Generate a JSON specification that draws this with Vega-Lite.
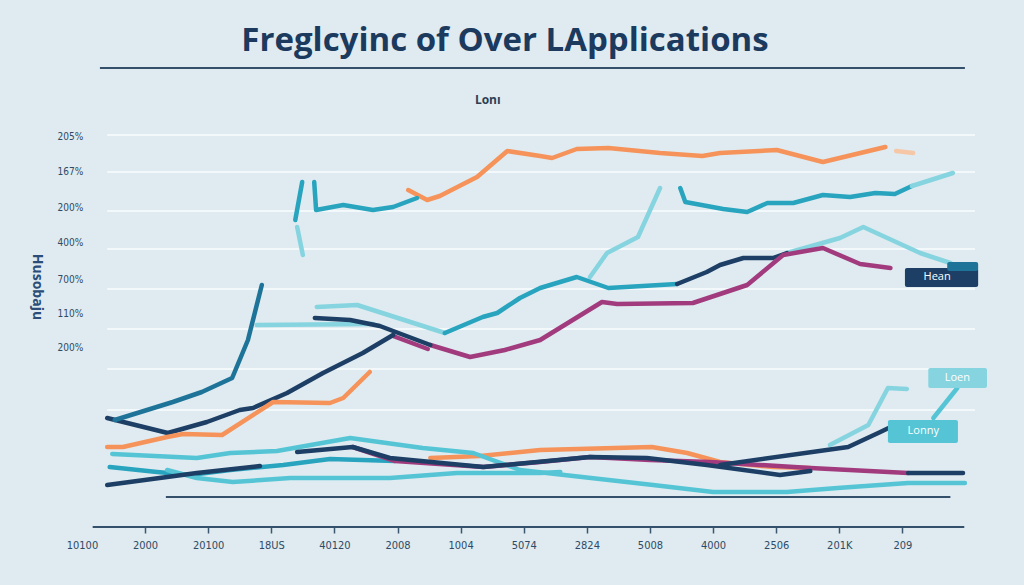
{
  "$schema": "https://vega.github.io/schema/vega-lite/v6.json",
  "width": 900,
  "height": 420,
  "autosize": "none",
  "padding": {"left": 75, "top": 107, "right": 49, "bottom": 58},
  "background": "#dfebf0",
  "config": {"view": {"stroke": null}},
  "title": {"text": "Freglcyinc of Over LApplications", "fontSize": 33, "fontWeight": "bold", "font": "Open Sans", "color": "#1b3a5e", "anchor": "middle", "frame": "group", "offset": 9, "dx": -20},
  "datasets": {
    "lines": [
      {"s":"orange","g":"o1","x":5.17,"y":84.25},{"s":"orange","g":"o1","x":5.47,"y":81.75},{"s":"orange","g":"o1","x":5.67,"y":82.75},{"s":"orange","g":"o1","x":6.26,"y":87.5},{"s":"orange","g":"o1","x":6.74,"y":94},{"s":"orange","g":"o1","x":7.26,"y":92.75},{"s":"orange","g":"o1","x":7.45,"y":92.25},{"s":"orange","g":"o1","x":7.84,"y":94.5},{"s":"orange","g":"o1","x":8.34,"y":94.75},{"s":"orange","g":"o1","x":9.16,"y":93.5},{"s":"orange","g":"o1","x":9.83,"y":92.75},{"s":"orange","g":"o1","x":10.11,"y":93.5},{"s":"orange","g":"o1","x":11.01,"y":94.25},{"s":"orange","g":"o1","x":11.74,"y":91.25},{"s":"orange","g":"o1","x":12.73,"y":95},
      {"s":"orangefade","g":"o1b","x":12.9,"y":94},{"s":"orangefade","g":"o1b","x":13.17,"y":93.5},
      {"s":"teal","g":"t1","x":3.38,"y":76.75},{"s":"teal","g":"t1","x":3.49,"y":86.25},
      {"s":"teal","g":"t2","x":3.68,"y":86.25},{"s":"teal","g":"t2","x":3.71,"y":79.25},{"s":"teal","g":"t2","x":4.14,"y":80.5},{"s":"teal","g":"t2","x":4.61,"y":79.25},{"s":"teal","g":"t2","x":4.93,"y":80},{"s":"teal","g":"t2","x":5.31,"y":82.25},
      {"s":"teal","g":"t3","x":9.48,"y":84.75},{"s":"teal","g":"t3","x":9.56,"y":81.25},{"s":"teal","g":"t3","x":10.16,"y":79.5},{"s":"teal","g":"t3","x":10.54,"y":78.75},{"s":"teal","g":"t3","x":10.86,"y":81},{"s":"teal","g":"t3","x":11.27,"y":81},{"s":"teal","g":"t3","x":11.74,"y":83},{"s":"teal","g":"t3","x":12.17,"y":82.5},{"s":"teal","g":"t3","x":12.57,"y":83.5},{"s":"teal","g":"t3","x":12.88,"y":83.25},{"s":"teal","g":"t3","x":13.15,"y":85.25},
      {"s":"light","g":"t4","x":13.15,"y":85.25},{"s":"light","g":"t4","x":13.8,"y":88.5},
      {"s":"light","g":"f1","x":3.41,"y":75},{"s":"light","g":"f1","x":3.5,"y":68},
      {"s":"light","g":"l1","x":8.05,"y":62.5},{"s":"light","g":"l1","x":8.32,"y":68.5},{"s":"light","g":"l1","x":8.81,"y":72.5},{"s":"light","g":"l1","x":9.16,"y":84.75},
      {"s":"light","g":"l2","x":11.17,"y":68.5},{"s":"light","g":"l2","x":12.01,"y":72.25},{"s":"light","g":"l2","x":12.38,"y":75},{"s":"light","g":"l2","x":13.28,"y":68.5},{"s":"light","g":"l2","x":13.76,"y":66},
      {"s":"light","g":"l3","x":3.72,"y":55},{"s":"light","g":"l3","x":4.36,"y":55.5},{"s":"light","g":"l3","x":5.75,"y":48.5},
      {"s":"light","g":"l4","x":2.77,"y":50.5},{"s":"light","g":"l4","x":4.61,"y":50.75},
      {"s":"light","g":"l5","x":11.85,"y":20.5},{"s":"light","g":"l5","x":12.46,"y":25.5},{"s":"light","g":"l5","x":12.77,"y":34.75},{"s":"light","g":"l5","x":13.07,"y":34.5},
      {"s":"mid","g":"c1","x":13.49,"y":27.25},{"s":"mid","g":"c1","x":13.87,"y":34.75},
      {"s":"teal","g":"t5","x":5.75,"y":48.5},{"s":"teal","g":"t5","x":6.35,"y":52.5},{"s":"teal","g":"t5","x":6.58,"y":53.5},{"s":"teal","g":"t5","x":6.94,"y":57.25},{"s":"teal","g":"t5","x":7.26,"y":59.75},{"s":"teal","g":"t5","x":7.84,"y":62.5},{"s":"teal","g":"t5","x":8.34,"y":59.75},{"s":"teal","g":"t5","x":9.43,"y":60.75},
      {"s":"navy","g":"n1","x":9.43,"y":60.75},{"s":"navy","g":"n1","x":9.9,"y":63.75},{"s":"navy","g":"n1","x":10.11,"y":65.5},{"s":"navy","g":"n1","x":10.48,"y":67.25},{"s":"navy","g":"n1","x":10.95,"y":67.25},{"s":"navy","g":"n1","x":11.17,"y":68.5},
      {"s":"magenta","g":"m1","x":4.93,"y":47.75},{"s":"magenta","g":"m1","x":5.48,"y":44.5},
      {"s":"magenta","g":"m2","x":5.52,"y":45.5},{"s":"magenta","g":"m2","x":6.15,"y":42.5},{"s":"magenta","g":"m2","x":6.7,"y":44.25},{"s":"magenta","g":"m2","x":7.26,"y":46.75},{"s":"magenta","g":"m2","x":8.24,"y":56.25},{"s":"magenta","g":"m2","x":8.48,"y":55.75},{"s":"magenta","g":"m2","x":9.68,"y":56},{"s":"magenta","g":"m2","x":10.54,"y":60.5},{"s":"magenta","g":"m2","x":11.11,"y":68},{"s":"magenta","g":"m2","x":11.74,"y":69.75},{"s":"magenta","g":"m2","x":12.33,"y":65.75},{"s":"magenta","g":"m2","x":12.81,"y":64.75},
      {"s":"navy","g":"n2","x":3.69,"y":52.25},{"s":"navy","g":"n2","x":4.25,"y":51.75},{"s":"navy","g":"n2","x":4.72,"y":50.25},{"s":"navy","g":"n2","x":5.52,"y":45.5},
      {"s":"navy","g":"n3","x":0.4,"y":27.25},{"s":"navy","g":"n3","x":1.36,"y":23.5},{"s":"navy","g":"n3","x":1.98,"y":26.25},{"s":"navy","g":"n3","x":2.5,"y":29.25},{"s":"navy","g":"n3","x":2.71,"y":29.75},{"s":"navy","g":"n3","x":3.25,"y":33.5},{"s":"navy","g":"n3","x":3.82,"y":38.5},{"s":"navy","g":"n3","x":4.45,"y":43.5},{"s":"navy","g":"n3","x":4.93,"y":48},
      {"s":"darkteal","g":"d1","x":0.52,"y":26.75},{"s":"darkteal","g":"d1","x":1.44,"y":31.25},{"s":"darkteal","g":"d1","x":1.9,"y":33.75},{"s":"darkteal","g":"d1","x":2.38,"y":37.25},{"s":"darkteal","g":"d1","x":2.63,"y":46.75},{"s":"darkteal","g":"d1","x":2.85,"y":60.5},
      {"s":"orange","g":"o2","x":0.4,"y":20},{"s":"orange","g":"o2","x":0.65,"y":20},{"s":"orange","g":"o2","x":1.35,"y":22.5},{"s":"orange","g":"o2","x":1.6,"y":23.25},{"s":"orange","g":"o2","x":2.22,"y":23},{"s":"orange","g":"o2","x":3.03,"y":31.25},{"s":"orange","g":"o2","x":3.93,"y":31},{"s":"orange","g":"o2","x":4.14,"y":32.25},{"s":"orange","g":"o2","x":4.56,"y":38.75},
      {"s":"orange","g":"o3","x":5.52,"y":17.25},{"s":"orange","g":"o3","x":6.31,"y":17.75},{"s":"orange","g":"o3","x":7.26,"y":19.25},{"s":"orange","g":"o3","x":7.86,"y":19.5},{"s":"orange","g":"o3","x":9.03,"y":20},{"s":"orange","g":"o3","x":9.59,"y":18.5},{"s":"orange","g":"o3","x":10.11,"y":16.25},{"s":"orange","g":"o3","x":10.95,"y":15},{"s":"orange","g":"o3","x":11.54,"y":14.75},
      {"s":"mid","g":"a1","x":0.48,"y":18.25},{"s":"mid","g":"a1","x":1.82,"y":17.25},{"s":"mid","g":"a1","x":2.35,"y":18.5},{"s":"mid","g":"a1","x":3.09,"y":19},{"s":"mid","g":"a1","x":4.25,"y":22.25},{"s":"mid","g":"a1","x":5.4,"y":19.75},{"s":"mid","g":"a1","x":6.2,"y":18.5},{"s":"mid","g":"a1","x":6.94,"y":14.25},{"s":"mid","g":"a1","x":9.05,"y":10.5},{"s":"mid","g":"a1","x":10.0,"y":8.75},{"s":"mid","g":"a1","x":11.17,"y":8.75},{"s":"mid","g":"a1","x":11.97,"y":9.75},{"s":"mid","g":"a1","x":13.09,"y":11},{"s":"mid","g":"a1","x":13.99,"y":11},
      {"s":"teal","g":"b1","x":0.44,"y":15},{"s":"teal","g":"b1","x":1.19,"y":13.75},{"s":"teal","g":"b1","x":1.71,"y":13},{"s":"teal","g":"b1","x":2.35,"y":14.25},{"s":"teal","g":"b1","x":3.19,"y":15.5},{"s":"teal","g":"b1","x":3.93,"y":17},{"s":"teal","g":"b1","x":4.96,"y":16.5},
      {"s":"mid","g":"c2","x":1.35,"y":14.25},{"s":"mid","g":"c2","x":1.82,"y":12.25},{"s":"mid","g":"c2","x":2.39,"y":11.25},{"s":"mid","g":"c2","x":3.3,"y":12.25},{"s":"mid","g":"c2","x":4.88,"y":12.25},{"s":"mid","g":"c2","x":5.94,"y":13.5},{"s":"mid","g":"c2","x":7.26,"y":13.5},{"s":"mid","g":"c2","x":7.58,"y":13.75},
      {"s":"navy","g":"n7","x":0.4,"y":10.5},{"s":"navy","g":"n7","x":1.35,"y":12.5},{"s":"navy","g":"n7","x":1.82,"y":13.5},{"s":"navy","g":"n7","x":2.82,"y":15.25},
      {"s":"magenta","g":"m3","x":4.29,"y":20},{"s":"magenta","g":"m3","x":4.96,"y":16.5},{"s":"magenta","g":"m3","x":6.36,"y":15},{"s":"magenta","g":"m3","x":7.26,"y":16.25},{"s":"magenta","g":"m3","x":8.05,"y":17.5},{"s":"magenta","g":"m3","x":9.0,"y":16.75},{"s":"magenta","g":"m3","x":9.95,"y":16.25},{"s":"magenta","g":"m3","x":11.54,"y":14.75},{"s":"magenta","g":"m3","x":13.09,"y":13.5},
      {"s":"navy","g":"n4","x":3.41,"y":18.75},{"s":"navy","g":"n4","x":4.29,"y":20},{"s":"navy","g":"n4","x":4.88,"y":17.25},{"s":"navy","g":"n4","x":6.36,"y":15},{"s":"navy","g":"n4","x":8.05,"y":17.5},{"s":"navy","g":"n4","x":8.95,"y":17.25},{"s":"navy","g":"n4","x":9.9,"y":15.5},{"s":"navy","g":"n4","x":11.06,"y":13},{"s":"navy","g":"n4","x":11.54,"y":14},
      {"s":"navy","g":"n5","x":10.11,"y":15.5},{"s":"navy","g":"n5","x":12.14,"y":20},{"s":"navy","g":"n5","x":12.65,"y":23.75},{"s":"navy","g":"n5","x":12.88,"y":25.5},
      {"s":"navy","g":"n6","x":13.09,"y":13.5},{"s":"navy","g":"n6","x":13.96,"y":13.5}
    ],
    "grid": [
      {"x":0.4,"x2":14.15,"y":98},{"x":0.4,"x2":14.15,"y":88.75},{"x":0.4,"x2":14.15,"y":79},{"x":0.4,"x2":14.15,"y":69.5},{"x":0.4,"x2":14.15,"y":59.5},{"x":0.4,"x2":14.15,"y":49.5},{"x":0.4,"x2":14.15,"y":39.5},{"x":0.4,"x2":14.15,"y":29.25}
    ],
    "rules": [
      {"x":0.285,"x2":13.99,"y":114.75},{"x":0.17,"x2":13.98,"y":0},{"x":1.33,"x2":13.76,"y":7.5}
    ],
    "boxes": [
      {"s":"navy","x":13.04,"x2":14.2,"y":64.75,"y2":60},
      {"s":"darkteal","x":13.71,"x2":14.2,"y":66.25,"y2":64},
      {"s":"light","x":13.41,"x2":14.34,"y":39.75,"y2":34.75},
      {"s":"mid","x":12.77,"x2":13.88,"y":26.75,"y2":21}
    ],
    "boxlabels": [
      {"t":"Hean","x":13.55,"y":62.4},{"t":"Loen","x":13.87,"y":37.25},{"t":"Lonny","x":13.33,"y":23.9}
    ],
    "ylabels": [
      {"t":"205%","x":0.02,"y":97.5},{"t":"167%","x":0.02,"y":88.75},{"t":"200%","x":0.02,"y":79.75},{"t":"400%","x":0.02,"y":71},{"t":"700%","x":0.02,"y":61.75},{"t":"110%","x":0.02,"y":53.25},{"t":"200%","x":0.02,"y":44.75}
    ],
    "subtitle": [{"t":"Lonı","x":6.43,"y":106.75}],
    "ytitle": [{"t":"Husobaju","x":-0.71,"y":60}]
  },
  "encoding": {
    "x": {"field":"x","type":"quantitative","scale":{"domain":[-0.11,14.15],"nice":false,"zero":false},
      "axis":{"values":[0,1,2,3,4,5,6,7,8,9,10,11,12,13],"labelExpr":"['10100','2000','20100','18US','40120','2008','1004','5074','2824','5008','4000','2506','201K','209'][datum.value]","domain":false,"grid":false,"title":null,"tickColor":"#3b5670","tickSize":6,"tickWidth":1.5,"tickOpacity":{"condition":{"test":"datum.value == 0","value":0},"value":1},"labelPadding":6,"labelFont":"DejaVu Sans Condensed, Liberation Sans, sans-serif","labelFontSize":11,"labelColor":"#2e4a66","labelFlush":false,"labelOverlap":false}},
    "y": {"field":"y","type":"quantitative","scale":{"domain":[0,105],"nice":false,"zero":false},"axis":null}
  },
  "layer": [
    {"data":{"name":"grid"},"mark":{"type":"rule","color":"#ffffff","strokeWidth":1.5,"opacity":0.85},"encoding":{"x2":{"field":"x2"}}},
    {"data":{"name":"rules"},"mark":{"type":"rule","color":"#34506b","strokeWidth":2},"encoding":{"x2":{"field":"x2"}}},
    {"data":{"name":"lines"},"mark":{"type":"line","strokeWidth":4.5,"strokeCap":"round","strokeJoin":"round"},
      "encoding":{"color":{"field":"s","type":"nominal","legend":null,"scale":{"domain":["navy","teal","darkteal","light","mid","orange","orangefade","magenta"],"range":["#1d3f66","#28a4bf","#1e7399","#86d4df","#55c5d5","#f5935a","#f6c7a6","#a23b7e"]}},"detail":{"field":"g"}}},
    {"data":{"name":"boxes"},"mark":{"type":"rect","cornerRadius":2},"encoding":{"x2":{"field":"x2"},"y2":{"field":"y2"},"color":{"field":"s","type":"nominal","legend":null}}},
    {"data":{"name":"boxlabels"},"mark":{"type":"text","color":"#ffffff","fontSize":11,"font":"Open Sans","align":"center","baseline":"middle"},"encoding":{"text":{"field":"t"}}},
    {"data":{"name":"ylabels"},"mark":{"type":"text","color":"#2e4a66","fontSize":10,"font":"DejaVu Sans Condensed, Liberation Sans, sans-serif","align":"right","baseline":"middle"},"encoding":{"text":{"field":"t"}}},
    {"data":{"name":"subtitle"},"mark":{"type":"text","color":"#2b3f55","fontSize":12,"font":"Open Sans","fontWeight":"bold","align":"center","baseline":"middle"},"encoding":{"text":{"field":"t"}}},
    {"data":{"name":"ytitle"},"mark":{"type":"text","color":"#2b4d78","fontSize":14,"font":"Open Sans","fontWeight":"bold","align":"center","baseline":"middle","angle":90},"encoding":{"text":{"field":"t"}}}
  ]
}
